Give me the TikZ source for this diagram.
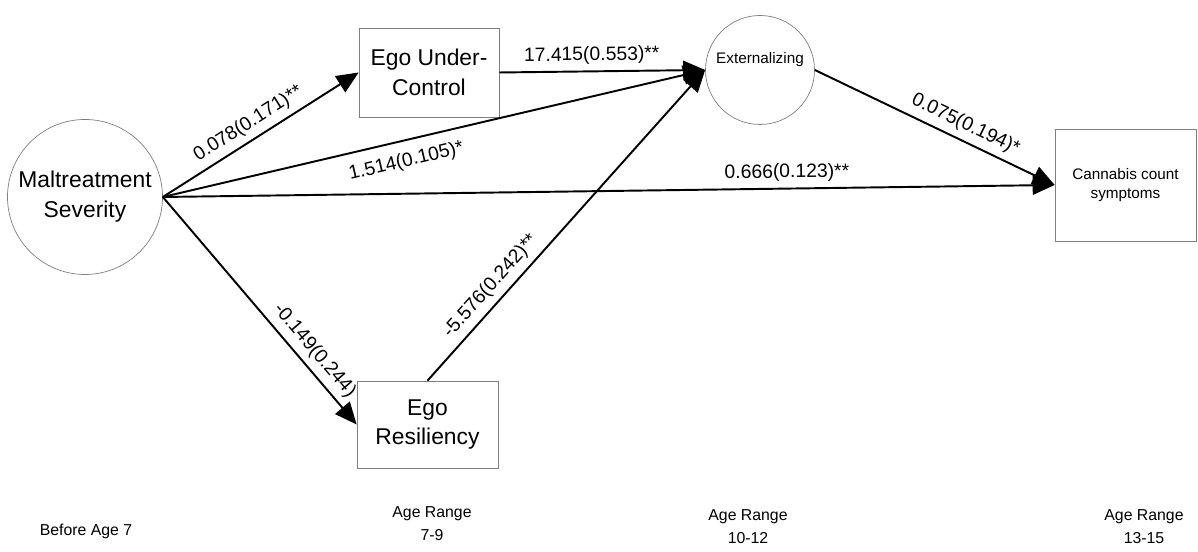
\documentclass[tikz,border=0pt]{standalone}
\usepackage{fontspec}
\setmainfont{Liberation Sans}
\usetikzlibrary{arrows.meta, positioning}
\usepackage{xcolor}
\definecolor{rim}{HTML}{7F7F7F}

\begin{document}
\begin{tikzpicture}[every node/.style={font=\fontsize{13}{17}\selectfont, align=center},
    latent/.style={draw=rim, circle, inner sep=0pt},
    obs/.style={draw=rim, rectangle, inner sep=0pt},
    effect/.style={-{Triangle[length=4.4mm, width=3.8mm]}, line width=1.1pt},
    coef/.style={font=\fontsize{11}{13}\selectfont, sloped, above}]
        \useasboundingbox (0,0) rectangle (23.96,11.04);
        \node[latent, minimum size=3.1cm] (mal) at (1.70,7.10) {Maltreatment\\Severity};
        \node[obs, minimum width=2.8cm, minimum height=1.78cm] (euc) at (8.58,9.59) {Ego Under-\\Control};
        \node[obs, minimum width=2.82cm, minimum height=1.74cm] (er) at (8.55,2.55) {Ego\\Resiliency};
        \node[latent, minimum size=2.18cm, label={[font=\fontsize{8.7}{11}\selectfont, yshift=2mm]center:Externalizing}] (ext) at (15.20,9.64) {};
        \node[obs, minimum width=2.82cm, minimum height=2.24cm, font=\fontsize{8.7}{11.3}\selectfont] (can) at (22.51,7.34) {Cannabis count\\symptoms};
        % age bands along the bottom
        \node[font=\fontsize{9}{13}\selectfont] (age0) at (1.72,0.42) {Before Age 7};
        \node[font=\fontsize{9}{13}\selectfont] (age1) at (8.64,0.56) {Age Range\\7-9};
        \node[font=\fontsize{9}{13}\selectfont] (age2) at (14.96,0.50) {Age Range\\10-12};
        \node[font=\fontsize{9}{13}\selectfont] (age3) at (22.88,0.50) {Age Range\\13-15};
        \draw[effect] (mal.east) -- node[coef, pos=0.48]{0.078(0.171)**} (euc.west);
        \draw[effect] (euc.east) -- node[coef, pos=0.45]{17.415(0.553)**} (ext.west);
        \draw[effect] (mal.east) -- node[coef, below=3pt, pos=0.44]{1.514(0.105)*} (ext.west);
        \draw[effect] (mal.east) -- node[coef, pos=0.7]{0.666(0.123)**} (can.west);
        \draw[effect] (mal.east) -- node[coef, pos=0.72]{-0.149(0.244)} (er.west);
        \draw[effect] (er.north) -- node[coef, pos=0.27]{-5.576(0.242)**} (ext.west);
        \draw[effect] (ext.east) -- node[coef, pos=0.6]{0.075(0.194)*} (can.west);
      \end{tikzpicture}
\end{document}
